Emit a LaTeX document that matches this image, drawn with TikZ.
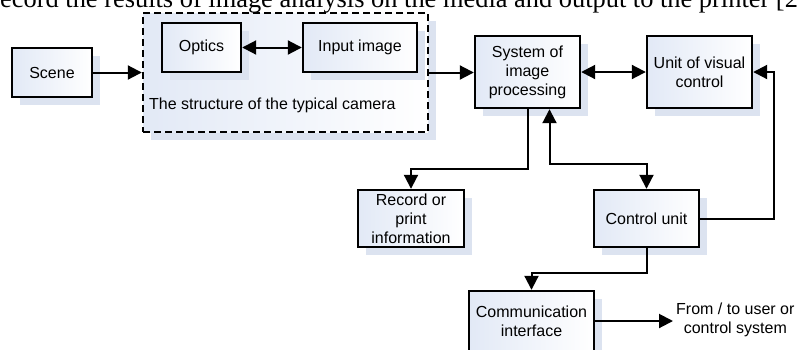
\documentclass[tikz,border=0pt]{standalone}
\usepackage{fontspec}
\setmainfont{Liberation Serif}
\setsansfont{Liberation Sans}
\usetikzlibrary{arrows.meta,shadows}
\definecolor{shadowblue}{HTML}{DCE3F0}
\definecolor{boxblue}{HTML}{E2E9F6}
\tikzset{
  box/.style={draw, line width=2.4pt, align=center, inner sep=0pt,
    font=\sffamily\fontsize{16}{19}\selectfont,
    left color=boxblue, right color=white,
    drop shadow={shadow xshift=8pt, shadow yshift=-8pt, fill=shadowblue, opacity=1}},
  plain/.style={align=center, inner sep=0pt, font=\sffamily\fontsize{16}{19}\selectfont},
  arr/.style={line width=2pt, -{Triangle[length=14pt,width=14pt]}},
  dbl/.style={line width=2pt, {Triangle[length=14pt,width=14pt]}-{Triangle[length=14pt,width=14pt]}}
}

\begin{document}
\begin{tikzpicture}[x=1pt, y=-1pt]
    \useasboundingbox (0,0) rectangle (799,349);
    \clip (0,0) rectangle (799,349);
    \node[anchor=base west, inner sep=0pt, font=\fontsize{26.4}{30}\selectfont] (heading) at (0,7)
        {ecord the results of image analysis on the media and output to the printer [2};

    \node[box, minimum width=80pt, minimum height=49pt] (scene) at (52,72.5) {Scene};
    \node[box, dash pattern=on 7pt off 4pt, minimum width=285pt, minimum height=119pt] (camera) at (285.5,72.5) {};
    \node[box, minimum width=79pt, minimum height=49pt] (optics) at (201.5,47.5) {Optics};
    \node[box, minimum width=114pt, minimum height=49pt] (input) at (360,47.5) {Input image};
    \node[plain, anchor=west] (camlabel) at (149,105) {The structure of the typical camera};
    \node[box, minimum width=105pt, minimum height=72pt] (system) at (527.5,72) {System of\\image\\processing};
    \node[box, minimum width=105pt, minimum height=72pt] (visual) at (699.5,72) {Unit of visual\\control};
    \node[box, minimum width=106pt, minimum height=57pt] (record) at (411,218.5) {Record or\\print\\information};
    \node[box, minimum width=105pt, minimum height=57pt] (control) at (646.5,218.5) {Control unit};
    \node[box, minimum width=125pt, minimum height=60pt] (comm) at (531.5,321) {Communication\\interface};
    \node[plain, anchor=west] (user) at (676,320) {From / to user or\\control system};

    \draw[arr] (scene) -- (camera);
    \draw[dbl] (optics) -- (input);
    \draw[arr] (camera.east) -- (camera.east -| system.west);
    \draw[dbl] (system) -- (visual);
    \draw[arr] (system.south) -- ++(0,60) -| (record.north);
    \draw[dbl] ([xshift=22pt]system.south) -- ++(0,55) -| (control.north);
    \draw[arr] (control.east) -- ++(74,0) |- (visual.east);
    \draw[arr] (control.south) -- ++(0,25) -| (comm.north);
    \draw[arr] (comm.east) -- ([xshift=-3pt]user.west |- comm.east);
\end{tikzpicture}
\end{document}
